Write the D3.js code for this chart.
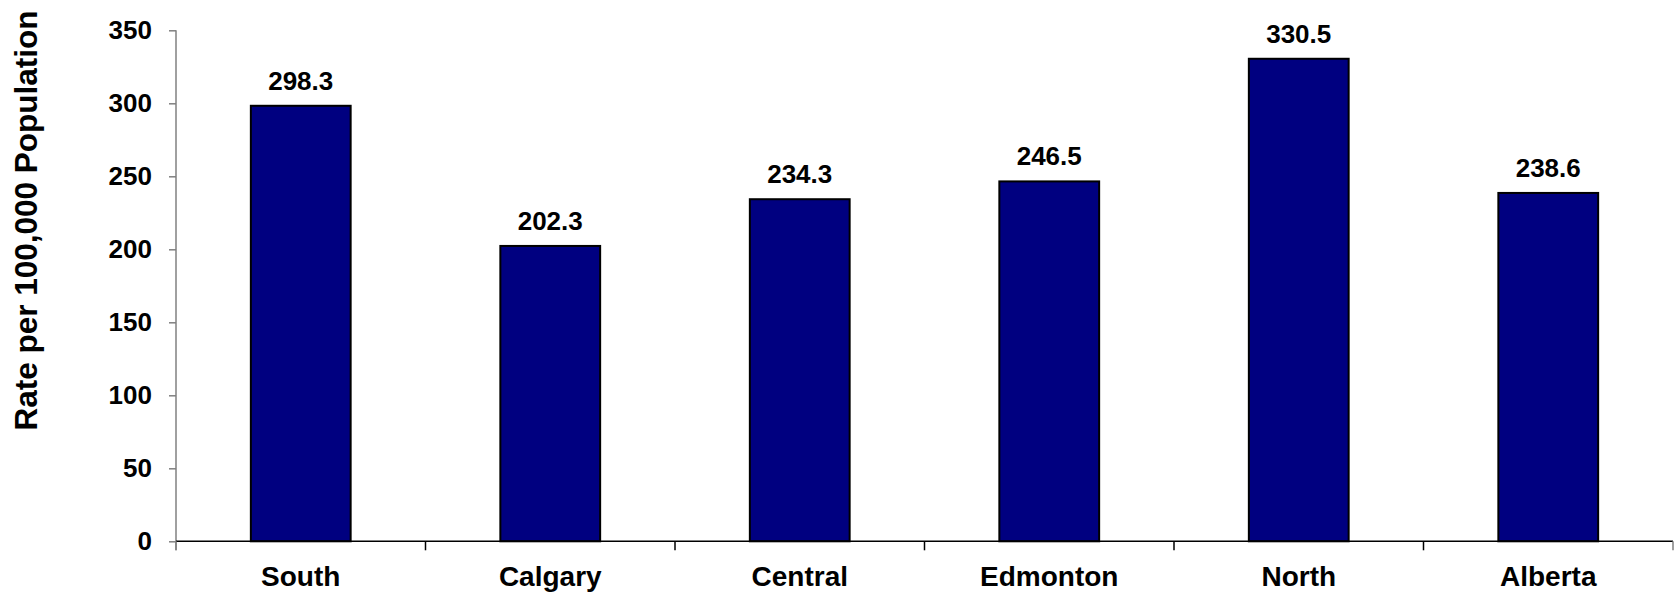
<!DOCTYPE html>
<html>
<head>
<meta charset="utf-8">
<script src="https://d3js.org/d3.v7.min.js"></script>
<style>
  html, body { margin: 0; padding: 0; background: #fff; }
  svg { display: block; }
  text { font-family: "Liberation Sans", Arial, sans-serif; font-weight: bold; fill: #000; }
</style>
</head>
<body>
<script>
const categories = ["South", "Calgary", "Central", "Edmonton", "North", "Alberta"];
const values = [298.3, 202.3, 234.3, 246.5, 330.5, 238.6];
const yTicks = [0, 50, 100, 150, 200, 250, 300, 350];
const yTitle = "Rate per 100,000 Population";

(function () {
const W = 1676, H = 593;
const mLeft = 176, mRight = 1673, mTop = 30.3, mBottom = 541.3;

const svg = d3.select("body").append("svg").attr("width", W).attr("height", H);

const x = d3.scaleBand().domain(categories).range([mLeft, mRight]).paddingInner(0.6).paddingOuter(0.3);
const y = d3.scaleLinear().domain([0, 350]).range([mBottom, mTop]);

// Bars
svg.selectAll("rect.bar").data(values).enter().append("rect")
  .attr("class", "bar")
  .attr("x", (d, i) => x(categories[i]))
  .attr("width", x.bandwidth())
  .attr("y", d => y(d))
  .attr("height", d => y(0) - y(d))
  .attr("fill", "#000080")
  .attr("stroke", "#000")
  .attr("stroke-width", 2);

// Value labels
svg.selectAll("text.val").data(values).enter().append("text")
  .attr("class", "val")
  .attr("x", (d, i) => x(categories[i]) + x.bandwidth() / 2)
  .attr("y", d => y(d) - 16)
  .attr("text-anchor", "middle")
  .style("font-size", "26px")
  .text(d => d.toFixed(1));

// Y axis
const yAxis = d3.axisLeft(y).tickValues(yTicks).tickSize(7).tickPadding(17).tickSizeOuter(0);
const gy = svg.append("g").attr("transform", `translate(${mLeft},0)`).call(yAxis);
gy.select(".domain").attr("stroke", "#808080").attr("stroke-width", 1.5)
  .attr("d", `M0,${mTop}V${mBottom + 9}`);
gy.selectAll(".tick line").attr("stroke", "#808080").attr("stroke-width", 1.5);
gy.selectAll(".tick text").style("font-size", "26px").style("font-family", '"Liberation Sans", Arial, sans-serif').style("font-weight", "bold").attr("fill", "#000");

// X axis
const xb = d3.scaleLinear().domain([0, categories.length]).range([mLeft, mRight]);
const gx = svg.append("g").attr("transform", `translate(0,${mBottom})`);
gx.append("line").attr("x1", mLeft).attr("x2", mRight).attr("y1", 0).attr("y2", 0)
  .attr("stroke", "#000").attr("stroke-width", 1.5);
gx.selectAll("line.tk").data(d3.range(categories.length + 1)).enter().append("line")
  .attr("class", "tk")
  .attr("x1", d => xb(d)).attr("x2", d => xb(d))
  .attr("y1", 0).attr("y2", 9)
  .attr("stroke", (d) => d === 0 || d === categories.length ? "#808080" : "#000")
  .attr("stroke-width", 1.5);
gx.selectAll("text.cat").data(categories).enter().append("text")
  .attr("class", "cat")
  .attr("x", d => x(d) + x.bandwidth() / 2)
  .attr("y", 45)
  .attr("text-anchor", "middle")
  .style("font-size", "28px")
  .text(d => d);

// Y title
svg.append("text")
  .attr("transform", `translate(37,220.5) rotate(-90)`)
  .attr("text-anchor", "middle")
  .style("font-size", "31.5px")
  .text(yTitle);
})();
</script>
</body>
</html>
